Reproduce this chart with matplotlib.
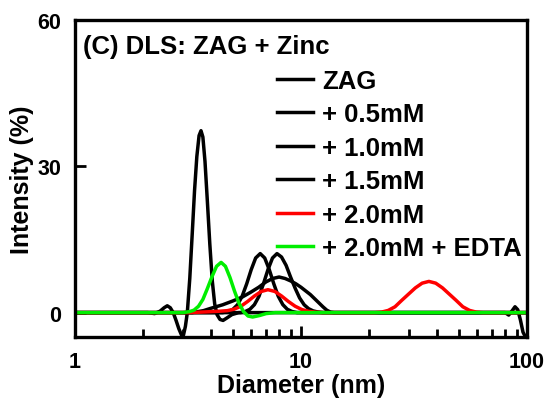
import numpy as np
import matplotlib
matplotlib.use('Agg')
import matplotlib.pyplot as plt

plt.rcParams['font.family'] = ['Liberation Sans', 'DejaVu Sans']
plt.rcParams['font.weight'] = 'bold'

# DLS intensity distributions, diameter (nm) vs intensity (%)
d_zag = [1.0, 2.1, 2.25, 2.38, 2.48, 2.56, 2.64, 2.72, 2.8, 2.88, 2.96, 3.02, 3.08,
         3.14, 3.22, 3.3, 3.38, 3.46, 3.54, 3.61, 3.68, 3.76, 3.85, 3.95, 4.05,
         4.15, 4.25, 4.38, 4.52, 4.7, 4.95, 5.3, 80, 83, 86, 88.5, 91, 93.5, 96, 98.5, 100]
i_zag = [0, 0, -0.2, 0.3, 1.0, 1.4, 1.0, 0, -1.6, -3.3, -4.6, -4.6, -2.8,
         0, 7, 16, 25, 32, 36.3, 37.3, 36, 31, 23, 14, 6.5,
         1.8, -0.4, -1.4, -1.6, -1.1, -0.4, 0, 0, -0.5, 0.4, 1.2, 0.6, -1.5, -4.0, -5.0, -5.0]

d_05 = [1.0, 4.5, 4.78, 5.00, 5.24, 5.49, 5.75, 6.02, 6.30, 6.60, 6.91, 7.24, 7.58,
        7.93, 8.31, 8.70, 9.11, 9.6, 100]
i_05 = [0, 0, 0.24, 0.68, 1.63, 3.36, 5.9, 8.8, 11.2, 12.1, 11.2, 8.8, 5.9,
        3.36, 1.63, 0.68, 0.24, 0, 0]

d_10 = [1.0, 5.4, 5.68, 5.94, 6.22, 6.52, 6.82, 7.14, 7.48, 7.83, 8.20, 8.59, 8.99,
        9.42, 9.86, 10.33, 10.81, 11.32, 11.86, 12.5, 100]
i_10 = [0, 0, 0.24, 0.68, 1.63, 3.36, 5.9, 8.8, 11.2, 12.1, 11.4, 9.7, 7.3,
        5.0, 3.0, 1.6, 0.8, 0.35, 0.13, 0, 0]

d_15 = [1.0, 3.3, 3.7, 4.0, 4.5, 5.0, 5.5, 6.0, 6.5, 7.0, 7.5, 8.0, 8.5, 9.0, 9.5,
        10.0, 11.0, 12.0, 12.5, 13.0, 13.5, 14.0, 100]
i_15 = [0, 0, 0.4, 0.9, 1.6, 2.4, 3.2, 4.2, 5.2, 6.3, 7.0, 7.3, 7.0, 6.5, 5.9,
        5.2, 3.7, 2.0, 1.2, 0.5, 0.1, 0, 0]

d_20 = [1.0, 3.2, 3.6, 4.0, 4.41, 4.72, 5.06, 5.42, 5.81, 6.22, 6.67, 7.14, 7.66,
        8.20, 8.79, 9.42, 10.09, 10.81, 11.59, 12.5,
        21.18, 22.70, 24.32, 26.06, 27.93, 29.92, 32.06, 34.36, 36.81, 39.45,
        42.27, 45.29, 48.53, 52.00, 55.72, 59.70, 63.97, 100]
i_20 = [0, 0, 0.1, 0.2, 0.3, 0.4, 0.7, 1.3, 2.3, 3.4, 4.34, 4.7, 4.34,
        3.41, 2.29, 1.31, 0.63, 0.26, 0.09, 0,
        0, 0.1, 0.45, 1.2, 2.53, 3.80, 5.07, 6.04, 6.4, 6.04,
        5.07, 3.80, 2.53, 1.2, 0.45, 0.1, 0, 0]

d_edta = [1.0, 3.0, 3.21, 3.36, 3.52, 3.68, 3.85, 4.04, 4.23, 4.43, 4.63, 4.85, 5.08,
          5.32, 5.57, 5.83, 6.11, 6.55, 7.01, 7.69, 100]
i_edta = [0, 0, 0.2, 0.5, 1.3, 2.7, 4.9, 7.4, 9.5, 10.3, 9.5, 7.2, 4.4,
          1.9, 0.2, -0.7, -0.9, -0.6, -0.2, 0, 0]

series = [
    (d_zag, i_zag, 'ZAG', 'black'),
    (d_05, i_05, '+ 0.5mM', 'black'),
    (d_10, i_10, '+ 1.0mM', 'black'),
    (d_15, i_15, '+ 1.5mM', 'black'),
    (d_20, i_20, '+ 2.0mM', '#ff0000'),
    (d_edta, i_edta, '+ 2.0mM + EDTA', '#00ee00'),
]

fig = plt.figure(figsize=(5.47, 4.02), dpi=100)
ax = fig.add_axes([75 / 547, 1 - 338 / 402, 452 / 547, 317 / 402])

for d, i, lab, col in series:
    ax.plot(d, i, color=col, lw=2.5, label=lab)

ax.set_xscale('log')
ax.set_xlim(1, 100)
ax.set_ylim(-5, 60)
ax.set_xticks([1, 10, 100], labels=['1', '10', '100'])
ax.set_yticks([0, 30, 60])

for s in ax.spines.values():
    s.set_linewidth(2.4)
ax.tick_params(which='major', direction='in', length=8, width=2, labelsize=15.5, pad=10)
ax.tick_params(which='minor', direction='in', length=6, width=2)
ax.tick_params(axis='y', which='minor', left=False)

ax.set_xlabel('Diameter (nm)', fontsize=18, fontweight='bold', labelpad=1)
ax.set_ylabel('Intensity (%)', fontsize=18, fontweight='bold', labelpad=2)

ax.text(0.018, 0.918, '(C) DLS: ZAG + Zinc', transform=ax.transAxes,
        fontsize=18.5, fontweight='bold', va='center', ha='left')

ax.legend(loc='upper left', bbox_to_anchor=(0.447, 0.846), frameon=False,
          prop={'size': 18.5, 'weight': 'bold'}, handlelength=1.4,
          handletextpad=0.35, labelspacing=0.37, borderpad=0, borderaxespad=0)

fig.savefig('out.png', dpi=100)
